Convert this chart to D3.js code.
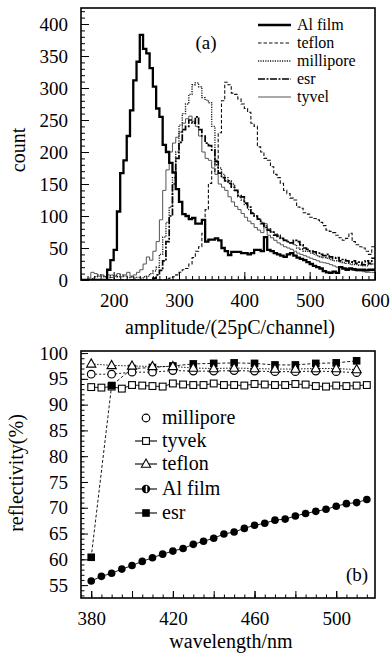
<!DOCTYPE html>
<html lang="en">
<head>
<meta charset="UTF-8">
<title>amplitude spectra and reflectivity</title>
<script src="https://d3js.org/d3.v7.min.js"></script>
<style>
  body { margin: 0; background: #fff; }
</style>
</head>
<body>
<svg id="chart" width="391" height="655"></svg>
<script>
// ---------- panel (a): amplitude histograms, 5-channel bins from 150 ----------
const binStart = 150, binWidth = 5;

const alFilmCounts = [
  0, 0, 0, 0, 0, 0, 0, 0, 16, 31,
  47, 107, 167, 187, 225, 265, 312, 341, 383, 361,
  354, 331, 302, 268, 255, 211, 200, 183, 168, 142,
  122, 103, 100, 95, 97, 88, 88, 94, 60, 63,
  63, 65, 62, 50, 45, 39, 44, 44, 44, 42,
  42, 40, 42, 47, 47, 45, 67, 47, 45, 42,
  40, 38, 36, 40, 42, 38, 35, 33, 31, 28,
  25, 22, 20, 18, 14, 12, 11, 13, 11, 20,
  18, 16, 18, 17, 16, 16, 16, 15, 16, 16
];
const teflonCounts = [
  0, 0, 0, 0, 0, 0, 0, 0, 0, 0,
  0, 0, 0, 0, 0, 0, 0, 0, 0, 0,
  0, 0, 0, 0, 0, 0, 2, 3, 5, 8,
  12, 16, 18, 25, 35, 45, 52, 73, 110, 151,
  170, 187, 230, 280, 309, 305, 292, 290, 283, 275,
  268, 262, 245, 240, 208, 200, 190, 187, 177, 165,
  160, 151, 140, 135, 128, 125, 114, 112, 105, 103,
  98, 96, 94, 90, 85, 78, 76, 74, 70, 66,
  62, 65, 73, 60, 55, 52, 50, 45, 40, 52
];
const milliporeCounts = [
  0, 0, 0, 2, 5, 8, 6, 5, 4, 8,
  7, 5, 8, 6, 4, 5, 3, 4, 3, 5,
  6, 10, 14, 20, 40, 67, 90, 114, 160, 200,
  242, 260, 275, 290, 305, 308, 302, 285, 281, 277,
  240, 180, 175, 165, 160, 155, 150, 140, 130, 125,
  118, 110, 105, 100, 95, 90, 85, 80, 75, 72,
  70, 65, 62, 60, 58, 55, 50, 48, 45, 45,
  42, 40, 38, 36, 35, 34, 32, 30, 30, 28,
  27, 26, 25, 24, 24, 23, 22, 22, 24, 25
];
const esrCounts = [
  0, 0, 0, 0, 0, 0, 0, 0, 0, 0,
  0, 0, 0, 0, 0, 0, 0, 0, 0, 0,
  0, 0, 3, 8, 15, 30, 60, 100, 150, 190,
  215, 235, 240, 250, 245, 255, 235, 225, 214, 210,
  203, 185, 167, 160, 155, 151, 145, 140, 132, 130,
  120, 114, 104, 100, 95, 88, 82, 78, 75, 70,
  68, 65, 62, 60, 58, 62, 60, 55, 50, 48,
  45, 44, 42, 40, 38, 40, 36, 34, 35, 30,
  32, 30, 28, 30, 26, 28, 24, 30, 26, 34
];
const tyvelCounts = [
  0, 0, 3, 12, 10, 6, 8, 5, 8, 4,
  6, 10, 5, 8, 12, 6, 8, 12, 16, 25,
  36, 31, 45, 60, 94, 140, 172, 200, 214, 223,
  231, 245, 252, 256, 248, 240, 225, 200, 190, 187,
  175, 165, 150, 145, 140, 130, 122, 115, 110, 104,
  98, 92, 88, 82, 78, 74, 88, 70, 66, 62,
  58, 55, 52, 50, 48, 45, 42, 40, 38, 36,
  34, 32, 30, 28, 27, 26, 24, 22, 20, 20,
  18, 18, 16, 15, 14, 14, 13, 12, 12, 12
];
const ampTicks = [200, 300, 400, 500, 600];
const countTicks = [0, 50, 100, 150, 200, 250, 300, 350, 400];

// ---------- panel (b): reflectivity vs wavelength ----------
const wl10 = [380, 390, 400, 410, 420, 430, 440, 450, 460, 470, 480, 490, 500, 510];
const milliporeRefl = [95.9, 95.9, 96.3, 96.3, 96.6, 96.5, 96.5, 96.6, 96.5, 96.4, 96.4, 96.5, 96.4, 96.2];
const teflonRefl = [97.9, 97.6, 97.5, 97.4, 97.4, 97.1, 97.0, 97.1, 97.0, 96.9, 96.9, 97.0, 97.0, 96.8];
const esrRefl = [60.4, 93.7, 97.0, 97.2, 97.5, 97.9, 98.0, 98.1, 98.0, 97.7, 97.7, 98.0, 98.1, 98.5];
const wl5 = [380, 385, 390, 395, 400, 405, 410, 415, 420, 425, 430, 435, 440, 445,
             450, 455, 460, 465, 470, 475, 480, 485, 490, 495, 500, 505, 510, 515];
const tyvekRefl = [93.4, 93.3, 93.5, 93.1, 93.8, 93.7, 93.6, 93.5, 94.1, 93.9, 93.8, 93.8, 94.1, 93.8,
                   93.8, 93.7, 94.0, 93.9, 93.8, 93.8, 94.0, 93.9, 93.6, 93.5, 93.7, 93.6, 93.7, 93.8];
const alFilmRefl = [55.8, 56.7, 57.3, 58.1, 58.8, 59.6, 60.3, 61.0, 61.6, 62.1, 62.9, 63.5, 64.1, 64.9,
                    65.3, 66.0, 66.6, 67.0, 67.6, 67.8, 68.4, 68.9, 69.3, 69.7, 70.3, 70.8, 71.0, 71.6];
const wlTicks = [380, 420, 460, 500];
const reflTicks = [55, 60, 65, 70, 75, 80, 85, 90, 95, 100];

const svg = d3.select("#chart");
const SERIF = "'Liberation Serif', 'Times New Roman', 'DejaVu Serif', serif";
const FS = 19;

// every text gets the serif face inline
function serif(sel, size) {
  return sel.attr("font-family", SERIF).style("font-family", SERIF)
    .style("font-size", size + "px").attr("fill", "#000");
}

// ================= panel (a) =================
const xa = d3.scaleLinear().domain([150, 600]).range([81, 375]);
const ya = d3.scaleLinear().domain([0, 425]).range([280, 8]);

svg.append("clipPath").attr("id", "clipA")
  .append("rect").attr("x", 81).attr("y", 8).attr("width", 294).attr("height", 272);

// minor ticks
svg.append("g").attr("transform", "translate(81,0)")
  .call(d3.axisLeft(ya).tickValues(d3.range(0, 421, 10)).tickSize(-4).tickFormat(""))
  .call(g => g.select(".domain").remove());
svg.append("g").attr("transform", "translate(0,280)")
  .call(d3.axisBottom(xa).tickValues(d3.range(150, 601, 10)).tickSize(-4).tickFormat(""))
  .call(g => g.select(".domain").remove());
// major ticks + labels
svg.append("g").attr("transform", "translate(81,0)")
  .call(d3.axisLeft(ya).tickValues(countTicks).tickSize(-8).tickPadding(13))
  .call(g => g.select(".domain").remove())
  .call(g => serif(g.selectAll("text"), FS));
svg.append("g").attr("transform", "translate(0,280)")
  .call(d3.axisBottom(xa).tickValues(ampTicks).tickSize(-8).tickPadding(14))
  .call(g => g.select(".domain").remove())
  .call(g => serif(g.selectAll("text"), FS));

const histLine = d3.line()
  .x(d => xa(d[0])).y(d => ya(d[1]))
  .curve(d3.curveStepAfter);

function histPoints(counts) {
  const pts = counts.map((c, i) => [binStart + i * binWidth, c]);
  pts.push([binStart + counts.length * binWidth, counts[counts.length - 1]]);
  return pts;
}

const histSeries = [
  { name: "Al film",   counts: alFilmCounts,    width: 2.3, dash: null,          color: "#000" },
  { name: "teflon",    counts: teflonCounts,    width: 1.1, dash: "3.5,2",       color: "#111" },
  { name: "millipore", counts: milliporeCounts, width: 1.4, dash: "1.2,1.2",     color: "#222" },
  { name: "esr",       counts: esrCounts,       width: 1.7, dash: "7,1.5,2,1.5", color: "#000" },
  { name: "tyvel",     counts: tyvelCounts,     width: 1.0, dash: null,          color: "#555" }
];

const gHist = svg.append("g").attr("clip-path", "url(#clipA)");
// draw order: thin ones first, Al film on top
[4, 2, 1, 3, 0].forEach(k => {
  const s = histSeries[k];
  gHist.append("path")
    .attr("d", histLine(histPoints(s.counts)))
    .attr("fill", "none")
    .attr("stroke", s.color)
    .attr("stroke-width", s.width)
    .attr("stroke-dasharray", s.dash);
});

svg.append("rect").attr("x", 81).attr("y", 8).attr("width", 294).attr("height", 272)
  .attr("fill", "none").attr("stroke", "#000").attr("stroke-width", 1.6);

// legend (a)
const legA = svg.append("g");
histSeries.forEach((s, i) => {
  const cy = 25 + i * 18;
  legA.append("line").attr("x1", 258).attr("x2", 291).attr("y1", cy).attr("y2", cy)
    .attr("stroke", s.color).attr("stroke-width", s.width).attr("stroke-dasharray", s.dash);
  serif(legA.append("text").attr("x", 297).attr("y", cy + 5), 16).text(s.name);
});
serif(svg.append("text").attr("x", 206).attr("y", 49).attr("text-anchor", "middle"), FS).text("(a)");

serif(svg.append("text").attr("x", 230).attr("y", 334).attr("text-anchor", "middle"), 20)
  .text("amplitude/(25pC/channel)");
serif(svg.append("text").attr("transform", "translate(25,150) rotate(-90)").attr("text-anchor", "middle"), 20)
  .text("count");

// ================= panel (b) =================
const xb = d3.scaleLinear().domain([375, 519]).range([81, 375]);
const yb = d3.scaleLinear().domain([52.5, 100.4]).range([598, 351]);

svg.append("clipPath").attr("id", "clipB")
  .append("rect").attr("x", 81).attr("y", 351).attr("width", 294).attr("height", 247);

svg.append("g").attr("transform", "translate(81,0)")
  .call(d3.axisLeft(yb).tickValues(d3.range(53, 101, 1)).tickSize(-3.5).tickFormat(""))
  .call(g => g.select(".domain").remove());
svg.append("g").attr("transform", "translate(0,598)")
  .call(d3.axisBottom(xb).tickValues(d3.range(380, 519, 5)).tickSize(-3.5).tickFormat(""))
  .call(g => g.select(".domain").remove());
svg.append("g").attr("transform", "translate(81,0)")
  .call(d3.axisLeft(yb).tickValues(reflTicks).tickSize(-7).tickPadding(13))
  .call(g => g.select(".domain").remove())
  .call(g => serif(g.selectAll("text"), FS));
svg.append("g").attr("transform", "translate(0,598)")
  .call(d3.axisBottom(xb).tickValues(d3.range(380, 519, 20)).tickSize(-7).tickFormat(""))
  .call(g => g.select(".domain").remove());
svg.append("g").attr("transform", "translate(0,598)")
  .call(d3.axisBottom(xb).tickValues(wlTicks).tickSize(-7).tickPadding(14))
  .call(g => g.select(".domain").remove())
  .call(g => serif(g.selectAll("text"), FS));

const gB = svg.append("g").attr("clip-path", "url(#clipB)");
const lineB = d3.line().x(d => xb(d[0])).y(d => yb(d[1]));
const zip = (xs, ys) => xs.map((x, i) => [x, ys[i]]);

const reflSeries = {
  tyvek:     { pts: zip(wl5, tyvekRefl),      dash: null,      width: 0.9 },
  alFilm:    { pts: zip(wl5, alFilmRefl),     dash: null,      width: 0.9 },
  esr:       { pts: zip(wl10, esrRefl),       dash: "3,2",     width: 0.9 },
  millipore: { pts: zip(wl10, milliporeRefl), dash: "2,2",     width: 0.9 },
  teflon:    { pts: zip(wl10, teflonRefl),    dash: "1.5,1.5", width: 0.9 }
};
Object.values(reflSeries).forEach(s => {
  gB.append("path").attr("d", lineB(s.pts)).attr("fill", "none")
    .attr("stroke", "#000").attr("stroke-width", s.width).attr("stroke-dasharray", s.dash);
});

function marker(g, type, x, y) {
  if (type === "circleOpen") {
    g.append("circle").attr("cx", x).attr("cy", y).attr("r", 3.8)
      .attr("fill", "#fff").attr("stroke", "#000").attr("stroke-width", 1.2);
  } else if (type === "circleFill") {
    g.append("circle").attr("cx", x).attr("cy", y).attr("r", 3.8).attr("fill", "#000");
  } else if (type === "circleHalf") {
    g.append("circle").attr("cx", x).attr("cy", y).attr("r", 4.2).attr("fill", "#000");
    g.append("rect").attr("x", x - 0.3).attr("y", y - 3.2).attr("width", 1.6).attr("height", 6.4).attr("fill", "#fff");
  } else if (type === "squareOpen") {
    g.append("rect").attr("x", x - 3.4).attr("y", y - 3.4).attr("width", 6.8).attr("height", 6.8)
      .attr("fill", "#fff").attr("stroke", "#000").attr("stroke-width", 1.1);
  } else if (type === "squareFill") {
    g.append("rect").attr("x", x - 3.8).attr("y", y - 3.8).attr("width", 7.6).attr("height", 7.6).attr("fill", "#000");
  } else if (type === "triangleOpen") {
    g.append("path")
      .attr("d", `M${x},${y - 5}L${x + 4.6},${y + 3.2}L${x - 4.6},${y + 3.2}Z`)
      .attr("fill", "#fff").attr("stroke", "#000").attr("stroke-width", 1.1);
  }
}

const gM = svg.append("g").attr("clip-path", "url(#clipB)");
reflSeries.tyvek.pts.forEach(d => marker(gM, "squareOpen", xb(d[0]), yb(d[1])));
reflSeries.alFilm.pts.forEach(d => marker(gM, "circleFill", xb(d[0]), yb(d[1])));
reflSeries.esr.pts.forEach(d => marker(gM, "squareFill", xb(d[0]), yb(d[1])));
reflSeries.millipore.pts.forEach(d => marker(gM, "circleOpen", xb(d[0]), yb(d[1])));
reflSeries.teflon.pts.forEach(d => marker(gM, "triangleOpen", xb(d[0]), yb(d[1])));

svg.append("rect").attr("x", 81).attr("y", 351).attr("width", 294).attr("height", 247)
  .attr("fill", "none").attr("stroke", "#000").attr("stroke-width", 1.6);

// legend (b)
const legB = [
  { name: "millipore", type: "circleOpen",   line: false },
  { name: "tyvek",     type: "squareOpen",   line: true },
  { name: "teflon",    type: "triangleOpen", line: true },
  { name: "Al film",   type: "circleHalf",   line: true },
  { name: "esr",       type: "squareFill",   line: true }
];
const legRowY = [418, 441, 464, 489, 513];
const gL = svg.append("g");
legB.forEach((e, i) => {
  const cy = legRowY[i];
  if (e.line) {
    gL.append("line").attr("x1", 135).attr("x2", 157).attr("y1", cy).attr("y2", cy)
      .attr("stroke", "#000").attr("stroke-width", 1.1);
  }
  marker(gL, e.type, 146, cy);
  serif(gL.append("text").attr("x", 162).attr("y", cy + 6), 20).text(e.name);
});
serif(svg.append("text").attr("x", 357).attr("y", 581).attr("text-anchor", "middle"), FS).text("(b)");

serif(svg.append("text").attr("x", 231).attr("y", 648).attr("text-anchor", "middle"), 20)
  .text("wavelength/nm");
serif(svg.append("text").attr("transform", "translate(23,473) rotate(-90)").attr("text-anchor", "middle"), 20)
  .text("reflectivity(%)");
</script>
</body>
</html>
